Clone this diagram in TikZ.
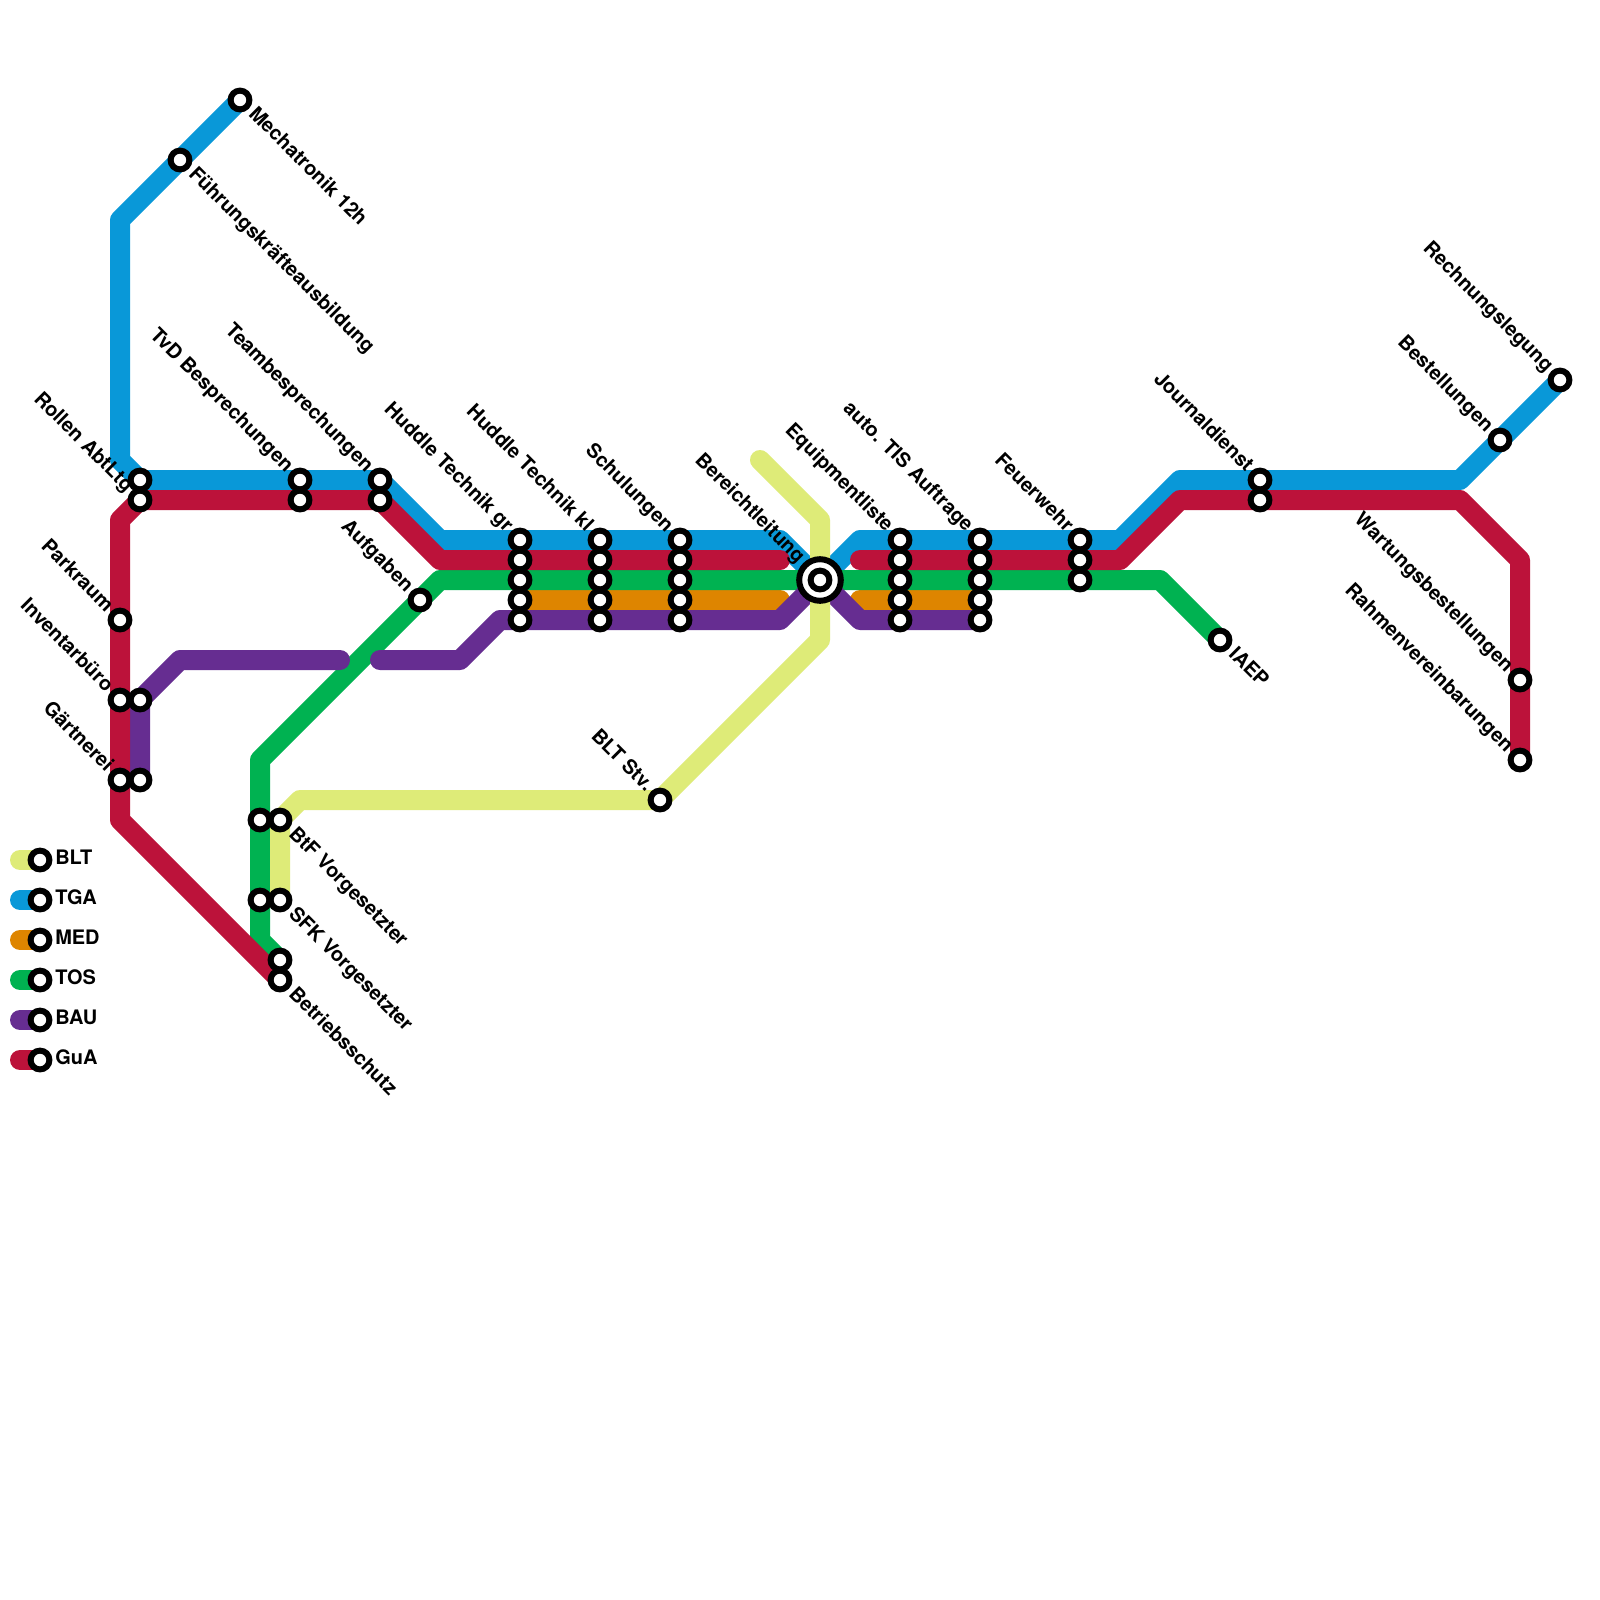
\documentclass[tikz,border=0pt]{standalone}
\usepackage{fontspec}
\setmainfont{TeX Gyre Heros}
\usetikzlibrary{backgrounds}
\definecolor{bltyellow}{RGB}{222,235,120}
\definecolor{tgablue}{RGB}{9,152,216}
\definecolor{medorange}{RGB}{222,133,0}
\definecolor{tosgreen}{RGB}{0,178,81}
\definecolor{baupurple}{RGB}{102,45,145}
\definecolor{guared}{RGB}{188,18,58}

\begin{document}
\begin{tikzpicture}[
  x=0.5cm, y=-0.5cm,
  font=\fontsize{14.2}{16}\selectfont\bfseries,
  metroline/.style={line width=0.5cm, line cap=round, line join=round},
  station/.style={circle, draw=black, fill=white, line width=0.15cm, minimum size=0.47cm, inner sep=0pt},
  hub/.style={circle, draw=black, fill=white, line width=0.15cm, minimum size=1.04cm, inner sep=0pt},
  labelse/.style={rotate=-45, anchor=west, inner sep=0pt, text height=0.72em, text depth=0pt, xshift=0.40cm},
  labelnw/.style={rotate=-45, anchor=east, inner sep=0pt, text height=0.72em, text depth=0pt, xshift=-0.38cm},
  legendtext/.style={anchor=west, inner sep=0pt, text height=0.72em, text depth=0pt}
]
\useasboundingbox (0,0) rectangle (80,80);

\node[station] (mechatronik) at (12,5) {};
\node[station] (fuehrung) at (9,8) {};
\node[station] (rollena) at (7,24) {};
\node[station] (rollenb) at (7,25) {};
\node[station] (tvda) at (15,24) {};
\node[station] (tvdb) at (15,25) {};
\node[station] (teama) at (19,24) {};
\node[station] (teamb) at (19,25) {};
\node[station] (aufgaben) at (21,30) {};
\node[station] (parkraum) at (6,31) {};
\node[station] (inventar) at (6,35) {};
\node[station] (inventarb) at (7,35) {};
\node[station] (gaertnerei) at (6,39) {};
\node[station] (gaertnereib) at (7,39) {};
\node[station] (btftos) at (13,41) {};
\node[station] (btf) at (14,41) {};
\node[station] (sfktos) at (13,45) {};
\node[station] (sfk) at (14,45) {};
\node[station] (schutztos) at (14,48) {};
\node[station] (schutz) at (14,49) {};
\node[station] (bltstv) at (33,40) {};

\node[station] (grtga) at (26,27) {};
\node[station] (grgua) at (26,28) {};
\node[station] (grtos) at (26,29) {};
\node[station] (grmed) at (26,30) {};
\node[station] (grbau) at (26,31) {};
\node[station] (kltga) at (30,27) {};
\node[station] (klgua) at (30,28) {};
\node[station] (kltos) at (30,29) {};
\node[station] (klmed) at (30,30) {};
\node[station] (klbau) at (30,31) {};
\node[station] (schultga) at (34,27) {};
\node[station] (schulgua) at (34,28) {};
\node[station] (schultos) at (34,29) {};
\node[station] (schulmed) at (34,30) {};
\node[station] (schulbau) at (34,31) {};

\node[hub] (bereich) at (41,29) {};
\node[station] (bereichin) at (41,29) {};

\node[station] (equiptga) at (45,27) {};
\node[station] (equipgua) at (45,28) {};
\node[station] (equiptos) at (45,29) {};
\node[station] (equipmed) at (45,30) {};
\node[station] (equipbau) at (45,31) {};
\node[station] (tistga) at (49,27) {};
\node[station] (tisgua) at (49,28) {};
\node[station] (tistos) at (49,29) {};
\node[station] (tismed) at (49,30) {};
\node[station] (tisbau) at (49,31) {};
\node[station] (feuertga) at (54,27) {};
\node[station] (feuergua) at (54,28) {};
\node[station] (feuertos) at (54,29) {};
\node[station] (journaltga) at (63,24) {};
\node[station] (journalgua) at (63,25) {};
\node[station] (iaep) at (61,32) {};
\node[station] (bestell) at (75,22) {};
\node[station] (rechnung) at (78,19) {};
\node[station] (wartung) at (76,34) {};
\node[station] (rahmen) at (76,38) {};

\node[labelse] (mechatroniklbl) at (mechatronik) {Mechatronik 12h};
\node[labelse] (fuehrunglbl) at (fuehrung) {Führungskräfteausbildung};
\node[labelse] (btflbl) at (btf) {BtF Vorgesetzter};
\node[labelse] (sfklbl) at (sfk) {SFK Vorgesetzter};
\node[labelse] (schutzlbl) at (schutz) {Betriebsschutz};
\node[labelse] (iaeplbl) at (iaep) {IAEP};

\node[labelnw] (rollenlbl) at (rollenb) {Rollen AbtLtg};
\node[labelnw] (tvdlbl) at (tvda) {TvD Besprechungen};
\node[labelnw] (teamlbl) at (teama) {Teambesprechungen};
\node[labelnw] (aufgabenlbl) at (aufgaben) {Aufgaben};
\node[labelnw] (parkraumlbl) at (parkraum) {Parkraum};
\node[labelnw] (inventarlbl) at (inventar) {Inventarbüro};
\node[labelnw] (gaertnereilbl) at (gaertnerei) {Gärtnerei};
\node[labelnw] (bltstvlbl) at (bltstv) {BLT Stv.};
\node[labelnw] (grlbl) at (grtga) {Huddle Technik gr};
\node[labelnw] (kllbl) at (kltga) {Huddle Technik kl};
\node[labelnw] (schullbl) at (schultga) {Schulungen};
\node[labelnw, xshift=-0.3cm] (bereichlbl) at (bereich) {Bereichtleitung};
\node[labelnw] (equiplbl) at (equiptga) {Equipmentliste};
\node[labelnw] (tislbl) at (tistga) {auto. TIS Auftrage};
\node[labelnw] (feuerlbl) at (feuertga) {Feuerwehr};
\node[labelnw] (journallbl) at (journaltga) {Journaldienst};
\node[labelnw] (bestelllbl) at (bestell) {Bestellungen};
\node[labelnw] (rechnunglbl) at (rechnung) {Rechnungslegung};
\node[labelnw] (wartunglbl) at (wartung) {Wartungsbestellungen};
\node[labelnw] (rahmenlbl) at (rahmen) {Rahmenvereinbarungen};

\node[station] (legblt) at (2,43) {};
\node[station] (legtga) at (2,45) {};
\node[station] (legmed) at (2,47) {};
\node[station] (legtos) at (2,49) {};
\node[station] (legbau) at (2,51) {};
\node[station] (leggua) at (2,53) {};
\node[legendtext] (legbltlbl) at (2.75,42.95) {BLT};
\node[legendtext] (legtgalbl) at (2.75,44.95) {TGA};
\node[legendtext] (legmedlbl) at (2.75,46.95) {MED};
\node[legendtext] (legtoslbl) at (2.75,48.95) {TOS};
\node[legendtext] (legbaulbl) at (2.75,50.95) {BAU};
\node[legendtext] (leggualbl) at (2.75,52.95) {GuA};

\begin{scope}[on background layer]
\fill[white] (0,0) rectangle (80,80);
% routes
\draw[metroline, tgablue] (mechatronik.center) -- (6,11) -- (6,23) -- (rollena.center) -- (teama.center) -- (22,27) -- (39,27) -- (bereich.center) -- (43,27) -- (56,27) -- (59,24) -- (73,24) -- (rechnung.center);
\draw[metroline, medorange] (grmed.center) -- (39,30);
\draw[metroline, medorange] (43,30) -- (tismed.center);
\draw[metroline, tosgreen] (iaep.center) -- (58,29) -- (22,29) -- (13,38) -- (13,47) -- (schutztos.center);
\draw[metroline, baupurple] (gaertnereib.center) -- (inventarb.center) -- (9,33) -- (17,33);
\draw[metroline, baupurple] (19,33) -- (23,33) -- (25,31) -- (39,31) -- (bereich.center) -- (43,31) -- (tisbau.center);
\draw[metroline, guared] (rahmen.center) -- (76,28) -- (73,25) -- (59,25) -- (56,28) -- (43,28);
\draw[metroline, guared] (39,28) -- (22,28) -- (teamb.center) -- (rollenb.center) -- (6,26) -- (6,41) -- (schutz.center);
\draw[metroline, bltyellow] (sfk.center) -- (btf.center) -- (15,40) -- (bltstv.center) -- (41,32) -- (41,26) -- (38,23);
% legend stubs
\draw[metroline, bltyellow] (1,43) -- (legblt.center);
\draw[metroline, tgablue] (1,45) -- (legtga.center);
\draw[metroline, medorange] (1,47) -- (legmed.center);
\draw[metroline, tosgreen] (1,49) -- (legtos.center);
\draw[metroline, baupurple] (1,51) -- (legbau.center);
\draw[metroline, guared] (1,53) -- (leggua.center);
\end{scope}
\end{tikzpicture}
\end{document}
